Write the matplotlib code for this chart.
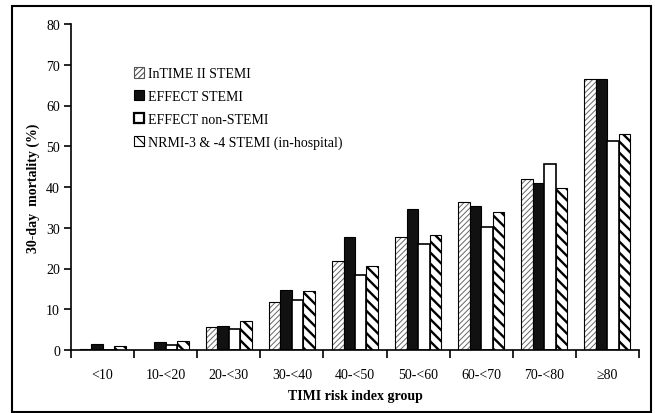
import numpy as np
import matplotlib
matplotlib.use('Agg')
import matplotlib.pyplot as plt
from matplotlib.patches import Rectangle

# Datos
grupos = ['<10', '10-<20', '20-<30', '30-<40', '40-<50', '50-<60', '60-<70', '70-<80', '\u226580']
intime_stemi = [0.3, 0.0, 5.7, 11.9, 21.9, 27.8, 36.3, 42.0, 66.6]
effect_stemi = [1.4, 2.0, 6.0, 14.8, 27.7, 34.6, 35.4, 41.1, 66.6]
effect_nonstemi = [0.0, 1.2, 5.1, 12.3, 18.4, 26.0, 30.3, 45.6, 51.4]
nrmi_stemi = [0.9, 2.2, 7.1, 14.4, 20.7, 28.2, 33.8, 39.7, 53.1]

etiquetas = ['InTIME II STEMI', 'EFFECT STEMI', 'EFFECT non-STEMI',
             'NRMI-3 & -4 STEMI (in-hospital)']

plt.rcParams['font.family'] = ['Liberation Serif', 'DejaVu Serif']
plt.rcParams['hatch.color'] = 'black'

fig = plt.figure(figsize=(6.55, 4.14), dpi=100)
ax = fig.add_axes([71 / 655, 1 - 351 / 414, 568 / 655, 326 / 414])

x = np.arange(len(grupos))
w = 0.182
offs = (np.arange(4) - 1.5) * w

# 1. InTIME: rayado fino gris
plt.rcParams['hatch.linewidth'] = 0.7
ax.bar(x + offs[0], intime_stemi, w, color='white', edgecolor='#666666',
       hatch='//////', linewidth=0)
ax.bar(x + offs[0], intime_stemi, w, fill=False, edgecolor='black', linewidth=0.8)

# 2. EFFECT STEMI: negro
ax.bar(x + offs[1], effect_stemi, w, color='#111111', edgecolor='black', linewidth=0.8)

# 3. EFFECT non-STEMI: blanco
ax.bar(x + offs[2], effect_nonstemi, w, color='white', edgecolor='black', linewidth=1.2)

# 4. NRMI: rayado grueso
plt.rcParams['hatch.linewidth'] = 1.7
ax.bar(x + offs[3], nrmi_stemi, w, color='white', edgecolor='black',
       hatch='\\\\\\', linewidth=0.8)

# Leyenda con cuadritos pequeños
plt.rcParams['hatch.linewidth'] = 0.8
h1 = Rectangle((0, 0), 1, 1, facecolor='white', edgecolor='#555555', hatch='//////', linewidth=0.8)
h2 = Rectangle((0, 0), 1, 1, facecolor='#111111', edgecolor='black', linewidth=0.8)
h3 = Rectangle((0, 0), 1, 1, facecolor='white', edgecolor='black', linewidth=1.6)
h4 = Rectangle((0, 0), 1, 1, facecolor='white', edgecolor='black', hatch='\\\\', linewidth=0.8)
ax.legend([h1, h2, h3, h4], etiquetas, loc='upper left', bbox_to_anchor=(0.111, 0.867),
          frameon=False, fontsize=10, handlelength=0.75, handleheight=0.75,
          handletextpad=0.25, labelspacing=0.7, borderpad=0, borderaxespad=0)

# Ejes
ax.set_xlim(-0.5, len(grupos) - 0.5)
ax.set_ylim(0, 80)
ax.set_yticks(range(0, 81, 10))
ax.set_xticks(x)
ax.set_xticklabels(grupos)
ax.set_xticks(np.arange(-0.5, len(grupos)), minor=True)
ax.tick_params(axis='x', which='major', length=0, pad=13, labelsize=10)
ax.tick_params(axis='x', which='minor', length=6, width=1.2, direction='out')
ax.tick_params(axis='y', length=5, width=1.2, direction='out', labelsize=10, pad=3)
for s in ['top', 'right']:
    ax.spines[s].set_visible(False)
for s in ['left', 'bottom']:
    ax.spines[s].set_linewidth(1.2)

ax.set_xlabel('TIMI risk index group', fontsize=10, fontweight='bold', labelpad=6)
ax.set_ylabel('30-day  mortality (%)', fontsize=10, fontweight='bold', labelpad=4)

# Marco alrededor de la figura
fig.patches.append(Rectangle((12 / 655, 1 / 414), 639 / 655, 406 / 414, transform=fig.transFigure,
                             fill=False, edgecolor='black', linewidth=1.5))

fig.savefig('out.png', dpi=100)
